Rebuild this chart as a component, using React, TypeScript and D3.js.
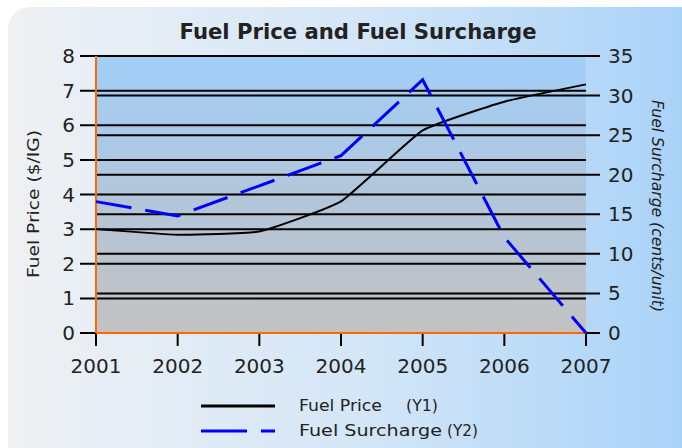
import React from 'react';
import * as d3 from 'd3';

const years = [2001, 2002, 2003, 2004, 2005, 2006, 2007];
const fuelPrice = [3.0, 2.84, 2.93, 3.8, 5.85, 6.68, 7.18];
const fuelSurcharge = [16.6, 14.8, 18.6, 22.4, 32.0, 12.1, 0];
const priceTicks = [0, 1, 2, 3, 4, 5, 6, 7, 8];
const surchargeTicks = [0, 5, 10, 15, 20, 25, 30, 35];

const FONT = 'DejaVu Sans, Verdana, sans-serif';

const App = () => {
  const left = 96, right = 586, top = 56, bottom = 333;

  const x = d3.scaleLinear().domain([2001, 2007]).range([left, right]);
  const y1 = d3.scaleLinear().domain([0, 8]).range([bottom, top]);
  const y2 = d3.scaleLinear().domain([0, 35]).range([bottom, top]);

  const priceLine = d3.line<number>()
    .x((d, i) => x(years[i]))
    .y(d => y1(d))
    .curve(d3.curveCardinal.tension(0.6));
  const surchargeLine = d3.line<number>()
    .x((d, i) => x(years[i]))
    .y(d => y2(d));

  return (
    <svg width={682} height={448} style={{ position: 'absolute', left: 0, top: 0 }} fontFamily={FONT}>
      <defs>
        <linearGradient id="panel" x1="0" y1="0" x2="1" y2="0">
          <stop offset="0" stopColor="#eff1f3" />
          <stop offset="0.5" stopColor="#d4e6f7" />
          <stop offset="1" stopColor="#a6d1f8" />
        </linearGradient>
        <linearGradient id="plot" x1="0" y1="0" x2="0" y2="1">
          <stop offset="0" stopColor="#a1cff9" />
          <stop offset="0.5" stopColor="#b2c6da" />
          <stop offset="1" stopColor="#c2c2c2" />
        </linearGradient>
      </defs>
      <rect x={0} y={0} width={682} height={448} fill="#fff" />
      <rect x={8} y={7} width={700} height={470} rx={22} fill="url(#panel)" />

      <text x={358} y={39} textAnchor="middle" fontSize={21} fontWeight="bold" fill="#222"
        textLength={357} lengthAdjust="spacingAndGlyphs">
        Fuel Price and Fuel Surcharge
      </text>

      <rect x={left} y={top} width={right - left} height={bottom - top} fill="url(#plot)" />

      {/* primary gridlines */}
      {priceTicks.map(t => (
        <line key={'p' + t} x1={80} x2={t === 8 ? 600 : right} y1={y1(t)} y2={y1(t)} stroke="#000" strokeWidth={2} />
      ))}
      {/* secondary gridlines */}
      {surchargeTicks.map(t => (
        <line key={'s' + t} x1={t === 0 ? right : left} x2={600} y1={y2(t)} y2={y2(t)} stroke="#000" strokeWidth={2} />
      ))}

      {priceTicks.map(t => (
        <text key={'pl' + t} x={75} y={y1(t) + 7} textAnchor="end" fontSize={20} fill="#222">{t}</text>
      ))}
      {surchargeTicks.map(t => (
        <text key={'sl' + t} x={608} y={y2(t) + 7} fontSize={20} fill="#222">{t}</text>
      ))}

      {years.map(yr => (
        <g key={yr}>
          <line x1={x(yr)} x2={x(yr)} y1={bottom} y2={346} stroke="#000" strokeWidth={2} />
          <text x={x(yr)} y={373} textAnchor="middle" fontSize={20} fill="#222">{yr}</text>
        </g>
      ))}

      <line x1={left} x2={left} y1={top} y2={bottom} stroke="#ff6a00" strokeWidth={2} />
      <line x1={left} x2={right} y1={bottom} y2={bottom} stroke="#ff6a00" strokeWidth={2} />

      <path d={priceLine(fuelPrice) ?? ''} fill="none" stroke="#000" strokeWidth={2} />
      <path d={surchargeLine(fuelSurcharge) ?? ''} fill="none" stroke="#0000ff" strokeWidth={3} strokeDasharray="36,14" />

      <text transform="translate(39,204) rotate(-90)" textAnchor="middle" fontSize={16} fill="#222"
        textLength={148} lengthAdjust="spacingAndGlyphs">
        Fuel Price ($/IG)
      </text>
      <text transform="translate(652,206) rotate(90)" textAnchor="middle" fontSize={15} fontStyle="italic" fill="#222"
        textLength={212} lengthAdjust="spacingAndGlyphs">
        Fuel Surcharge (cents/unit)
      </text>

      <line x1={201} x2={275} y1={406} y2={406} stroke="#000" strokeWidth={3} />
      <text x={299} y={411} fontSize={15} fill="#222" textLength={83} lengthAdjust="spacingAndGlyphs">Fuel Price</text>
      <text x={406} y={411} fontSize={15} fill="#222" textLength={32} lengthAdjust="spacingAndGlyphs">(Y1)</text>
      <line x1={201} x2={275} y1={431} y2={431} stroke="#0000ff" strokeWidth={3} strokeDasharray="46,14" />
      <text x={299} y={436} fontSize={15} fill="#222" textLength={143} lengthAdjust="spacingAndGlyphs">Fuel Surcharge</text>
      <text x={447} y={436} fontSize={15} fill="#222" textLength={31} lengthAdjust="spacingAndGlyphs">(Y2)</text>
    </svg>
  );
};

export default App;
